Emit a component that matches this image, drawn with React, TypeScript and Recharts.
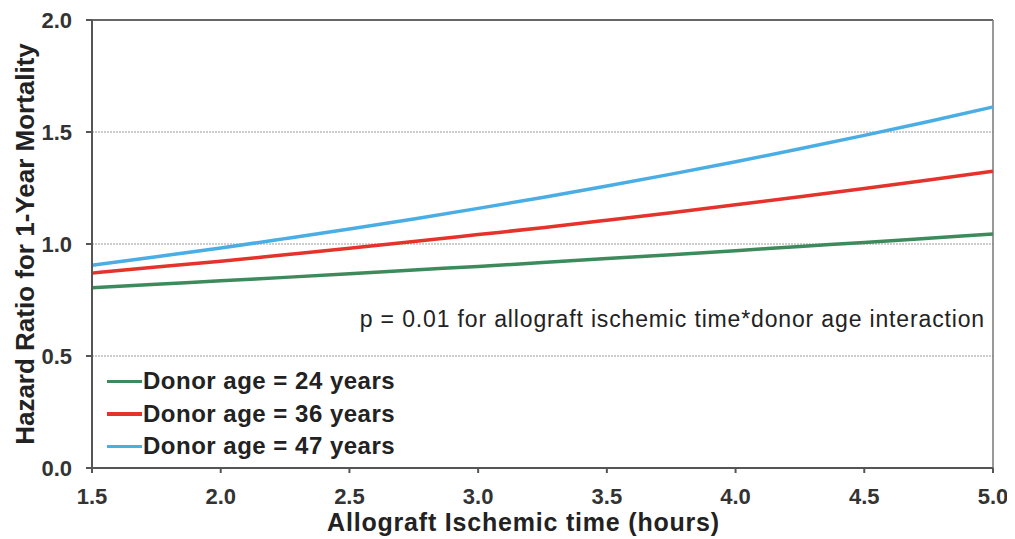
import React from "react";
import { LineChart, Line, XAxis, YAxis, CartesianGrid, ReferenceLine, Label } from "recharts";

const hours = [1.5, 1.75, 2.0, 2.25, 2.5, 2.75, 3.0, 3.25, 3.5, 3.75, 4.0, 4.25, 4.5, 4.75, 5.0];
const age24 = [0.805, 0.82, 0.836, 0.851, 0.867, 0.884, 0.9, 0.917, 0.935, 0.952, 0.97, 0.989, 1.007, 1.026, 1.045];
const age36 = [0.87, 0.897, 0.923, 0.952, 0.981, 1.011, 1.042, 1.073, 1.106, 1.14, 1.175, 1.211, 1.248, 1.286, 1.325];
const age47 = [0.905, 0.943, 0.982, 1.024, 1.067, 1.112, 1.159, 1.208, 1.259, 1.312, 1.367, 1.425, 1.485, 1.547, 1.612];
const xTicks = [1.5, 2.0, 2.5, 3.0, 3.5, 4.0, 4.5, 5.0];
const yTicks = [0, 0.5, 1.0, 1.5, 2.0];

const seriesInfo = [
  { key: "a24", name: "Donor age = 24 years", color: "#3d8b5c" },
  { key: "a36", name: "Donor age = 36 years", color: "#e5322b" },
  { key: "a47", name: "Donor age = 47 years", color: "#4aaee4" },
];

const data = hours.map((h, i) => ({ h, a24: age24[i], a36: age36[i], a47: age47[i] }));

const FONT = "Arial, 'Liberation Sans', sans-serif";

export default function App() {
  return (
    <div style={{ position: "relative", left: -8, top: -8, width: 1015, height: 539, background: "#fff" }}>
      <LineChart
        width={1015}
        height={539}
        data={data}
        margin={{ top: 20, right: 22, bottom: 0, left: 0 }}
      >
        <CartesianGrid vertical={false} stroke="#999" strokeDasharray="2 1" horizontalValues={[0.5, 1.0, 1.5]} />
        <XAxis
          dataKey="h"
          type="number"
          domain={[1.5, 5]}
          ticks={xTicks}
          tickFormatter={(v: number) => v.toFixed(1)}
          height={71}
          stroke="#555"
          strokeWidth={2}
          tickSize={5}
          tick={{ fill: "#333", fontFamily: FONT, fontWeight: 700, fontSize: 22 }}
          tickMargin={15}
        >
          <Label
            value="Allograft Ischemic time (hours)"
            position="insideBottom"
            offset={8}
            dx={-19}
            fontSize={25}
            fontWeight={700}
            fontFamily={FONT}
            fill="#222"
            style={{ letterSpacing: "0.8px" }}
          />
        </XAxis>
        <YAxis
          type="number"
          domain={[0, 2]}
          ticks={yTicks}
          tickFormatter={(v: number) => v.toFixed(1)}
          width={92}
          stroke="#555"
          strokeWidth={2}
          tickSize={6}
          tick={{ fill: "#333", fontFamily: FONT, fontWeight: 700, fontSize: 22 }}
          tickMargin={14}
        >
          <Label
            value="Hazard Ratio for 1-Year Mortality"
            angle={-90}
            position="insideLeft"
            offset={25}
            fontSize={26}
            fontWeight={700}
            fontFamily={FONT}
            fill="#222"
            style={{ textAnchor: "middle" }}
          />
        </YAxis>
        <ReferenceLine y={2} stroke="#666" strokeWidth={2} />
        <ReferenceLine x={5} stroke="#777" strokeWidth={1.5} />
        {seriesInfo.map((s) => (
          <Line
            key={s.key}
            dataKey={s.key}
            name={s.name}
            type="monotone"
            stroke={s.color}
            strokeWidth={3.5}
            dot={false}
            isAnimationActive={false}
          />
        ))}
      </LineChart>
      <div
        style={{
          position: "absolute",
          left: 107,
          top: 365,
          fontFamily: FONT,
          fontWeight: 700,
          fontSize: 24,
          letterSpacing: "0.5px",
          color: "#222",
          whiteSpace: "nowrap",
        }}
      >
        {seriesInfo.map((s) => (
          <div key={s.key} style={{ display: "flex", alignItems: "center", height: 32.5 }}>
            <div style={{ width: 35, height: 3.5, background: s.color, marginRight: 1 }} />
            <span>{s.name}</span>
          </div>
        ))}
      </div>
      <div
        style={{
          position: "absolute",
          right: 30,
          top: 306,
          fontFamily: FONT,
          fontSize: 23,
          letterSpacing: "0.85px",
          color: "#222",
          whiteSpace: "nowrap",
        }}
      >
        p = 0.01 for allograft ischemic time*donor age interaction
      </div>
    </div>
  );
}
